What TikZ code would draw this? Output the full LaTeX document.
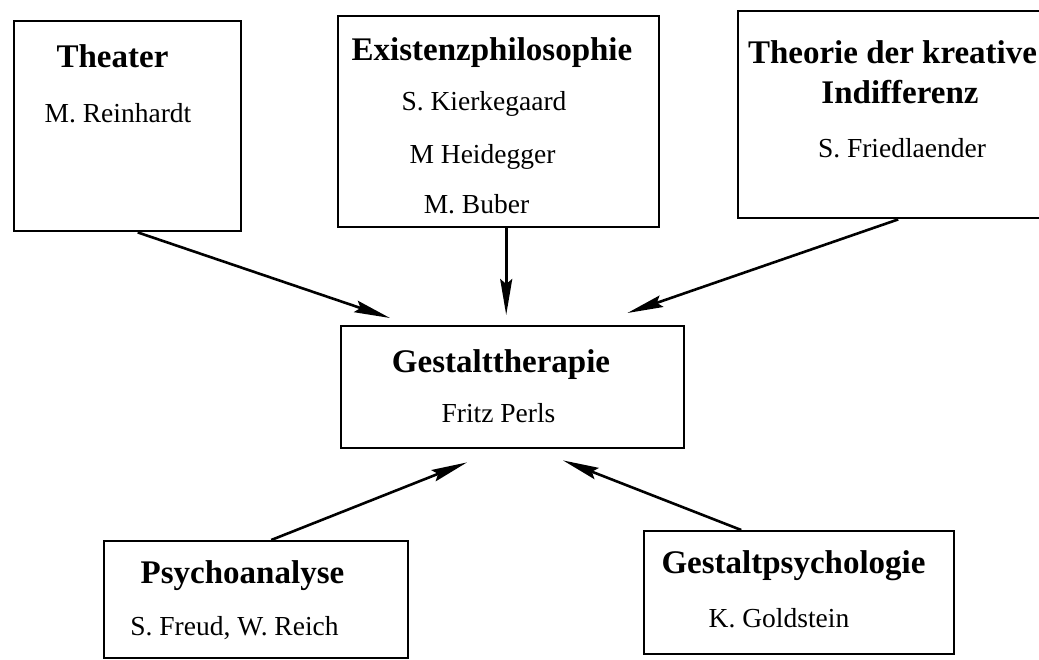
\documentclass[tikz,border=0pt]{standalone}
\usepackage{fontspec}
\setmainfont{Liberation Serif}
\usepackage{tikz}
\usetikzlibrary{arrows.meta}

\begin{document}
\begin{tikzpicture}[x=1pt,y=-1pt,
box/.style={draw,line width=2.4pt,anchor=north west,inner sep=0pt},
boxtitle/.style={anchor=base,font=\fontsize{33}{36}\selectfont\bfseries},
person/.style={anchor=base,font=\fontsize{27.5}{30}\selectfont},
arr/.style={line width=2.6pt,-{Stealth[length=36pt,width=12pt,inset=5pt]}}]
\useasboundingbox (0,0) rectangle (1039,659);
\clip (0,0) rectangle (1039,659);
\node[box,minimum width=227pt,minimum height=210pt](theater) at (13,20){};
\node[box,minimum width=321pt,minimum height=211pt](exist) at (337,15){};
\node[box,minimum width=330pt,minimum height=207pt](theo) at (737,10){};
\node[box,minimum width=343pt,minimum height=122pt](ther) at (340,325){};
\node[box,minimum width=304pt,minimum height=117pt](psy) at (103,540){};
\node[box,minimum width=310pt,minimum height=123pt](gps) at (643,530){};
\node[boxtitle](theaterT) at (112.5,67){Theater};
\node[person](theaterN) at (118,122){M. Reinhardt};
\node[boxtitle](existT) at (492,60){Existenzphilosophie};
\node[person](existA) at (484,110){S. Kierkegaard};
\node[person](existB) at (482.5,163){M Heidegger};
\node[person](existC) at (476.5,213){M. Buber};
\node[boxtitle](theoT) at (892.5,63){Theorie der kreative};
\node[boxtitle](theoU) at (900,103){Indifferenz};
\node[person](theoN) at (902,157){S. Friedlaender};
\node[boxtitle](therT) at (501,372){Gestalttherapie};
\node[person](therN) at (498.5,422){Fritz Perls};
\node[boxtitle](psyT) at (242.5,583){Psychoanalyse};
\node[person](psyN) at (234.5,635){S. Freud, W. Reich};
\node[boxtitle](gpsT) at (793.5,573){Gestaltpsychologie};
\node[person](gpsN) at (779,627){K. Goldstein};
\draw[arr]([xshift=10pt]theater.south)--([xshift=50pt,yshift=7pt]ther.north west);
\draw[arr]([xshift=7.5pt]exist.south)--([xshift=-6.5pt,yshift=10pt]ther.north);
\draw[arr]([xshift=-5pt]theo.south)--([xshift=-58pt,yshift=12pt]ther.north east);
\draw[arr]([xshift=15pt]psy.north)--([xshift=127pt,yshift=-13pt]ther.south west);
\draw[arr]([xshift=-58pt]gps.north)--([xshift=223pt,yshift=-11pt]ther.south west);
\end{tikzpicture}
\end{document}
